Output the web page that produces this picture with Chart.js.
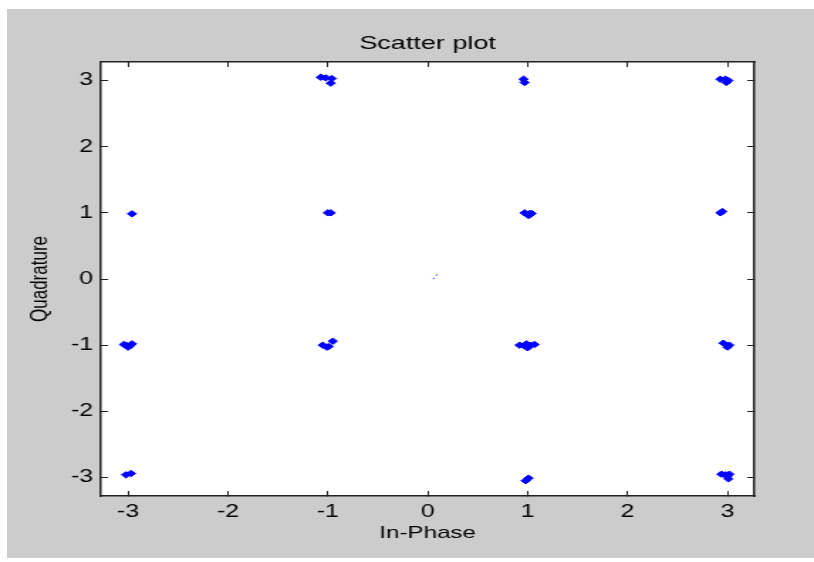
<!DOCTYPE html>
<html>
<head>
<meta charset="utf-8">
<script src="https://cdn.jsdelivr.net/npm/chart.js@4"></script>
<style>
  html, body { margin: 0; padding: 0; background: #ffffff; }
  #bg { position: absolute; left: 7px; top: 9px; width: 807px; height: 549px; background: #cccccc; }
  #plot { position: absolute; left: 0; top: 0; }
</style>
</head>
<body>
<div id="bg"></div>
<canvas id="plot" width="573" height="562" style="width:814px;height:562px"></canvas>
<script>
// received symbols (in-phase / quadrature)
const inPhase = [
  -1.07, -1.02, -0.96, -0.97,
  0.96, 0.97,
  2.93, 2.98, 3.01, 2.99,
  -2.96,
  -1.0, -0.97,
  0.97, 1.02, 1.01, 1.04,
  2.93, 2.95,
  -3.04, -2.96, -3.0, -3.02, -2.98,
  -0.95, -1.05, -1.01, -0.99,
  0.92, 0.97, 1.0, 1.03, 1.07, 0.99,
  2.96, 3.0, 3.02,
  -3.02, -2.97,
  0.98, 1.01,
  2.94, 2.98, 3.02, 3.01, 3.0
];
const quadrature = [
  3.05, 3.04, 3.03, 2.96,
  3.02, 2.97,
  3.02, 3.02, 3.0, 2.97,
  0.985,
  1.0, 1.0,
  1.0, 0.99, 0.96, 0.99,
  1.0, 1.02,
  -0.99, -0.98, -1.03, -1.0, -1.01,
  -0.94, -1.0, -1.03, -1.02,
  -1.0, -1.01, -1.04, -1.0, -0.99, -0.98,
  -0.97, -1.03, -1.0,
  -2.96, -2.94,
  -3.05, -3.01,
  -2.95, -2.96, -2.95, -3.02, -2.98
];
// tiny speck near the origin
const speckI = [0.06, 0.09];
const speckQ = [0.01, 0.06];

const xTicks = [-3, -2, -1, 0, 1, 2, 3];
const yTicks = [-3, -2, -1, 0, 1, 2, 3];

const font = 'Arial, "Liberation Sans", sans-serif';
const ink = "#000000";
const frame = "#222222";

const toPoints = (xs, ys) => xs.map((x, i) => ({ x: x, y: ys[i] }));
const setTicks = (vals) => (scale) => { scale.ticks = vals.map((v) => ({ value: v })); };

const whiteArea = {
  id: "whiteArea",
  beforeDraw(chart) {
    const a = chart.chartArea;
    chart.ctx.save();
    chart.ctx.fillStyle = "#ffffff";
    chart.ctx.fillRect(a.left, a.top, a.right - a.left, a.bottom - a.top);
    chart.ctx.restore();
  },
};

const edgeAxis = (pos, min, max, vals, size) => ({
  type: "linear",
  position: pos,
  min: min,
  max: max,
  afterBuildTicks: setTicks(vals),
  afterFit(scale) {
    if (pos === "top") scale.height = size;
    else scale.width = size;
  },
  ticks: { display: false },
  grid: { drawOnChartArea: false, drawTicks: true, tickLength: -5, color: frame, lineWidth: 1 },
  border: { display: true, color: frame, width: 1.5 },
});

new Chart(document.getElementById("plot"), {
  type: "scatter",
  data: {
    datasets: [
      {
        data: toPoints(inPhase, quadrature),
        pointStyle: "rectRot",
        pointRadius: 3.2,
        borderWidth: 1,
        backgroundColor: "#0000ff",
        borderColor: "#0000ff",
      },
      {
        data: toPoints(speckI, speckQ),
        pointStyle: "circle",
        pointRadius: 0.7,
        borderWidth: 0,
        backgroundColor: "#3333ff",
        borderColor: "#3333ff",
      },
    ],
  },
  options: {
    responsive: false,
    animation: false,
    devicePixelRatio: 1,
    events: [],
    layout: { padding: { left: 29, right: 0, top: 0, bottom: 0 } },
    plugins: {
      legend: { display: false },
      tooltip: { enabled: false },
      title: {
        display: true,
        text: "Scatter plot",
        color: ink,
        font: { family: font, size: 19, weight: "normal", lineHeight: 1.2 },
        padding: { top: 32.4, bottom: 6.8 },
      },
    },
    scales: {
      x: {
        type: "linear",
        position: "bottom",
        min: -3.27,
        max: 3.27,
        afterBuildTicks: setTicks(xTicks),
        afterFit(scale) { scale.height = 66; },
        ticks: { color: ink, font: { family: font, size: 17.5 }, padding: 11, maxRotation: 0 },
        grid: { drawOnChartArea: false, drawTicks: true, tickLength: -5, color: frame, lineWidth: 1 },
        border: { display: true, color: frame, width: 1.5 },
        title: {
          display: true,
          text: "In-Phase",
          color: ink,
          font: { family: font, size: 17, lineHeight: 1.2 },
          padding: { top: 0, bottom: 18.8 },
        },
      },
      x2: edgeAxis("top", -3.27, 3.27, xTicks, 0),
      y: {
        type: "linear",
        position: "left",
        min: -3.28,
        max: 3.28,
        afterBuildTicks: setTicks(yTicks),
        afterFit(scale) { scale.width = 42.1; },
        ticks: { color: ink, font: { family: font, size: 17.5 }, padding: 10.6 },
        grid: { drawOnChartArea: false, drawTicks: true, tickLength: -5, color: frame, lineWidth: 1 },
        border: { display: true, color: frame, width: 1.5 },
        title: {
          display: true,
          text: "Quadrature",
          color: ink,
          font: { family: font, size: 17, lineHeight: 1.2 },
          padding: { top: -11, bottom: 0 },
        },
      },
      y2: edgeAxis("right", -3.28, 3.28, yTicks, 42),
    },
  },
  plugins: [whiteArea],
});
</script>
</body>
</html>
